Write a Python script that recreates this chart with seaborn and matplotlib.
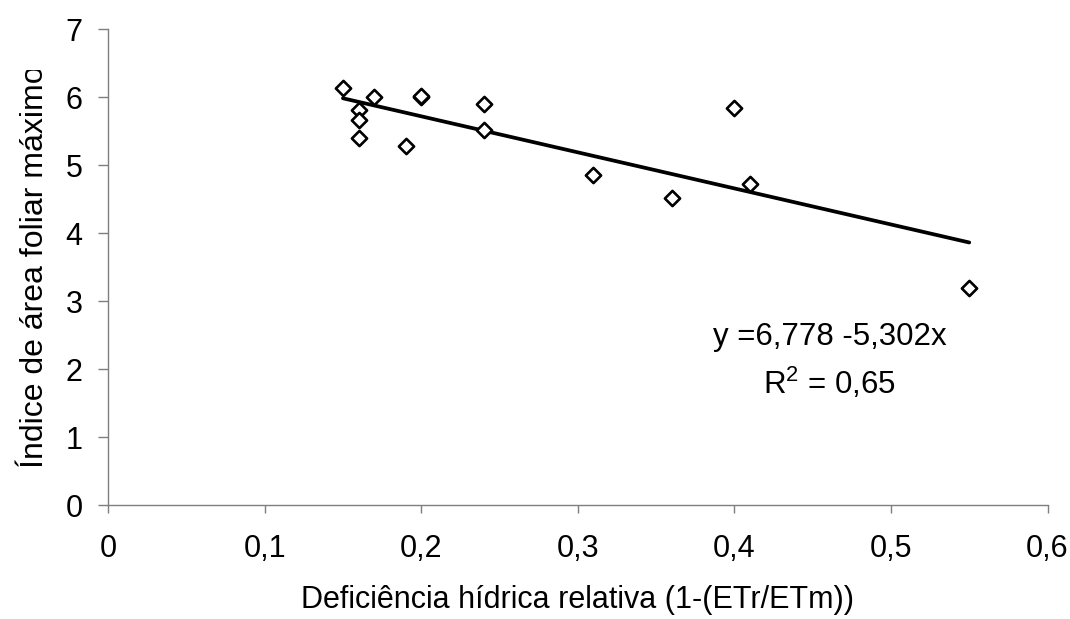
import matplotlib
matplotlib.use("Agg")
import matplotlib.pyplot as plt
from matplotlib.transforms import Bbox, TransformedBbox
import seaborn as sns
import numpy as np
import pandas as pd

# Data
deficit = [0.15, 0.16, 0.16, 0.16, 0.17, 0.19, 0.20, 0.20, 0.24, 0.24, 0.31, 0.36, 0.40, 0.41, 0.55]
iaf_max = [6.13, 5.81, 5.66, 5.40, 6.00, 5.28, 6.00, 6.02, 5.90, 5.52, 4.85, 4.51, 5.84, 4.72, 3.19]

# Regression reported on the chart
intercept = 6.778
slope = -5.302
fit_range = [0.15, 0.55]

xticks = [0, 0.1, 0.2, 0.3, 0.4, 0.5, 0.6]
xtick_labels = ["0", "0,1", "0,2", "0,3", "0,4", "0,5", "0,6"]
yticks = [0, 1, 2, 3, 4, 5, 6, 7]
ytick_labels = ["0", "1", "2", "3", "4", "5", "6", "7"]

sns.set_theme(style="white")
plt.rcParams["font.family"] = ["Liberation Sans", "DejaVu Sans"]
plt.rcParams["mathtext.fontset"] = "custom"
plt.rcParams["mathtext.rm"] = "Liberation Sans"
plt.rcParams["mathtext.it"] = "Liberation Sans"
plt.rcParams["text.color"] = "black"
plt.rcParams["axes.labelcolor"] = "black"
plt.rcParams["xtick.labelcolor"] = "black"
plt.rcParams["ytick.labelcolor"] = "black"

fig = plt.figure(figsize=(10.7, 6.19), dpi=100)
ax = fig.add_axes([0.101, 0.184, 0.878, 0.769])

df = pd.DataFrame({"x": deficit, "y": iaf_max})
sns.scatterplot(data=df, x="x", y="y", ax=ax, marker="D", s=60,
                facecolor="white", edgecolor="black", linewidth=1.9, zorder=3)

fx = np.array(fit_range)
fit = pd.DataFrame({"x": fx, "y": intercept + slope * fx})
sns.lineplot(data=fit, x="x", y="y", ax=ax, color="black", linewidth=2.7, zorder=2)

ax.set_xlim(0, 0.6)
ax.set_ylim(0, 7)
ax.set_xticks(xticks)
ax.set_xticklabels(xtick_labels, fontsize=22, color="black")
ax.set_yticks(yticks)
ax.set_yticklabels(ytick_labels, fontsize=22, color="black")

for s in ["top", "right"]:
    ax.spines[s].set_visible(False)
for s in ["left", "bottom"]:
    ax.spines[s].set_color("#7f7f7f")
    ax.spines[s].set_linewidth(1.0)
ax.tick_params(axis="x", direction="out", length=6, width=1.0, color="#7f7f7f",
               bottom=True, pad=15)
ax.tick_params(axis="y", direction="out", length=7.5, width=1.0, color="#7f7f7f",
               left=True, pad=11)

ax.set_xlabel("Deficiência hídrica relativa (1-(ETr/ETm))", fontsize=22, labelpad=15,
              color="black")
ax.set_ylabel("Índice de área foliar máximo", fontsize=23, ha="left", color="black")
ax.yaxis.set_label_coords(-0.062, 0.078)
# the reference label is cut off at its top end
ylab = ax.yaxis.label
ylab.set_clip_on(True)
ylab.set_clip_box(TransformedBbox(Bbox([[0, 0], [1, 1 - 70 / 619]]), fig.transFigure))

ax.text(0.461, 2.47, "y =6,778 -5,302x", fontsize=22.5, ha="center", va="center")
ax.text(0.461, 1.79, "R$^2$ = 0,65", fontsize=22.5, ha="center", va="center")

fig.savefig("out.png", dpi=100)
